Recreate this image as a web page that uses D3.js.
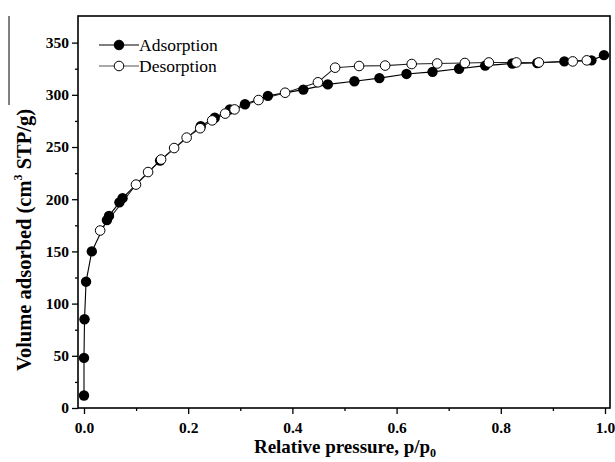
<!DOCTYPE html>
<html>
<head>
<meta charset="utf-8">
<script src="https://cdn.jsdelivr.net/npm/d3@7"></script>
<style>
  body { margin: 0; background: #fff; }
  text { font-family: "Liberation Serif", "Times New Roman", serif; }
</style>
</head>
<body>
<div id="canvas"></div>
<script>
"use strict"

let svgWidth = 615;
let svgHeight = 462;

// plot frame (pixels)
let plotLeft = 78, plotRight = 610, plotTop = 16, plotBottom = 408;

/* Isotherm data: [p/p0, volume] */
let adsorption = [
    [0.000, 12], [0.000, 48], [0.001, 85], [0.004, 121], [0.015, 150],
    [0.044, 180], [0.048, 184], [0.068, 197], [0.074, 201], [0.146, 237],
    [0.224, 270], [0.251, 278], [0.280, 286], [0.309, 291], [0.353, 299],
    [0.421, 305], [0.468, 310], [0.519, 313], [0.567, 316], [0.619, 320],
    [0.669, 322], [0.720, 325], [0.770, 328], [0.822, 330], [0.870, 330.5],
    [0.922, 332], [0.974, 333], [0.998, 338]
];

let desorption = [
    [0.965, 333], [0.938, 332], [0.873, 331], [0.830, 331], [0.777, 331],
    [0.731, 330.5], [0.678, 330], [0.629, 329.5], [0.578, 328], [0.528, 327.6],
    [0.482, 326], [0.449, 312], [0.386, 302], [0.335, 295], [0.289, 286],
    [0.271, 282], [0.246, 275.5], [0.223, 268], [0.197, 259], [0.173, 249],
    [0.148, 238], [0.123, 226], [0.0998, 214], [0.031, 170]
];

let xTicks = [0, 0.2, 0.4, 0.6, 0.8, 1.0];
let xMinor = [0.1, 0.3, 0.5, 0.7, 0.9];
let yTicks = [0, 50, 100, 150, 200, 250, 300, 350];
let yMinor = [25, 75, 125, 175, 225, 275, 325];

let svg = d3.select("#canvas")
    .append("svg")
    .attr("width", svgWidth)
    .attr("height", svgHeight);

/* Scales */
let xScale = d3.scaleLinear()
    .domain([-0.0115, 1.0096])
    .range([plotLeft, plotRight]);

let yScale = d3.scaleLinear()
    .domain([0, 375.5])
    .range([plotBottom, plotTop]);

/* Axes with outward ticks */
let xAxis = svg.append("g")
    .attr("transform", "translate(0," + plotBottom + ")")
    .call(d3.axisBottom(xScale).tickValues(xTicks).tickSize(6).tickSizeOuter(0)
        .tickFormat(d3.format(".1f")));

svg.append("g")
    .attr("transform", "translate(0," + plotBottom + ")")
    .call(d3.axisBottom(xScale).tickValues(xMinor).tickSize(3).tickFormat(""));

let yAxis = svg.append("g")
    .attr("transform", "translate(" + plotLeft + ",0)")
    .call(d3.axisLeft(yScale).tickValues(yTicks).tickSize(6).tickSizeOuter(0));

svg.append("g")
    .attr("transform", "translate(" + plotLeft + ",0)")
    .call(d3.axisLeft(yScale).tickValues(yMinor).tickSize(3).tickFormat(""));

svg.selectAll(".tick line").attr("stroke", "#000").attr("stroke-width", 1.3);
svg.selectAll(".domain").remove();

xAxis.selectAll("text")
    .attr("dy", "1.05em")
    .style("font-size", "15.5px")
    .style("font-weight", "bold")
    .attr("fill", "#000");

yAxis.selectAll("text")
    .attr("x", -9)
    .style("font-size", "15.5px")
    .style("font-weight", "bold")
    .attr("fill", "#000");

/* Frame */
svg.append("rect")
    .attr("x", plotLeft)
    .attr("y", plotTop)
    .attr("width", plotRight - plotLeft)
    .attr("height", plotBottom - plotTop)
    .attr("fill", "none")
    .attr("stroke", "#000")
    .attr("stroke-width", 1.6);

/* Lines */
let line = d3.line()
    .x(d => xScale(d[0]))
    .y(d => yScale(d[1]));

svg.append("path")
    .datum(adsorption)
    .attr("d", line)
    .attr("fill", "none")
    .attr("stroke", "#000")
    .attr("stroke-width", 1.1);

svg.append("path")
    .datum(desorption)
    .attr("d", line)
    .attr("fill", "none")
    .attr("stroke", "#222")
    .attr("stroke-width", 1.1);

/* Markers */
svg.selectAll("circle.ads")
    .data(adsorption)
    .join("circle")
    .attr("class", "ads")
    .attr("cx", d => xScale(d[0]))
    .attr("cy", d => yScale(d[1]))
    .attr("r", 5.2)
    .attr("fill", "#000");

svg.selectAll("circle.des")
    .data(desorption)
    .join("circle")
    .attr("class", "des")
    .attr("cx", d => xScale(d[0]))
    .attr("cy", d => yScale(d[1]))
    .attr("r", 4.8)
    .attr("fill", "#fff")
    .attr("stroke", "#000")
    .attr("stroke-width", 1);

/* Legend */
let legend = [
    {label: "Adsorption", fill: "#000", stroke: "#000", y: 45},
    {label: "Desorption", fill: "#fff", stroke: "#555", y: 66}
];

legend.forEach(function (item) {
    svg.append("line")
        .attr("x1", 99).attr("x2", 139)
        .attr("y1", item.y).attr("y2", item.y)
        .attr("stroke", item.stroke)
        .attr("stroke-width", 1.1);
    svg.append("circle")
        .attr("cx", 119).attr("cy", item.y)
        .attr("r", 4.8)
        .attr("fill", item.fill)
        .attr("stroke", "#000")
        .attr("stroke-width", 1);
    svg.append("text")
        .attr("x", 139)
        .attr("y", item.y + 6)
        .style("font-size", "17.5px")
        .text(item.label);
});

/* Axis titles */
let xTitle = svg.append("text")
    .attr("x", 345)
    .attr("y", 453)
    .attr("text-anchor", "middle")
    .style("font-size", "19px")
    .style("font-weight", "bold")
    .text("Relative pressure, p/p");
xTitle.append("tspan")
    .attr("dy", 4)
    .style("font-size", "12px")
    .text("0");

let yTitle = svg.append("text")
    .attr("transform", "translate(31,240) rotate(-90)")
    .attr("text-anchor", "middle")
    .style("font-size", "20.5px")
    .style("font-weight", "bold")
    .text("Volume adsorbed (cm");
yTitle.append("tspan")
    .attr("dy", -9)
    .style("font-size", "12px")
    .text("3");
yTitle.append("tspan")
    .attr("dy", 9)
    .text(" STP/g)");

// stray rule next to the title in the original figure
svg.append("line")
    .attr("x1", 9).attr("x2", 9)
    .attr("y1", 16).attr("y2", 105)
    .attr("stroke", "#000")
    .attr("stroke-width", 1);
</script>
</body>
</html>
